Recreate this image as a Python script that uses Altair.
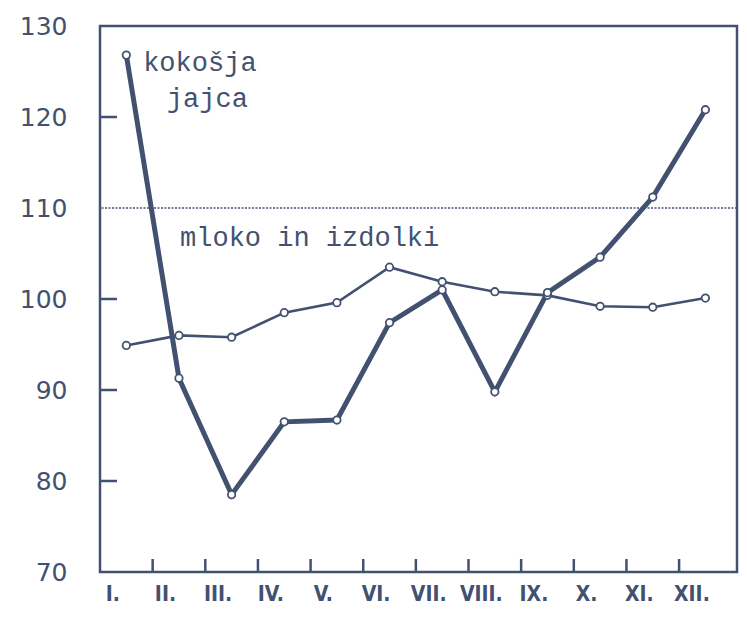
import altair as alt
import pandas as pd

months = list(range(1, 13))
month_labels = ["I.", "II.", "III.", "IV.", "V.", "VI.", "VII.", "VIII.", "IX.", "X.", "XI.", "XII."]
eggs = [126.8, 91.3, 78.5, 86.5, 86.7, 97.4, 101.0, 89.8, 100.7, 104.6, 111.2, 120.8]
milk = [94.9, 96.0, 95.8, 98.5, 99.6, 103.5, 101.9, 100.8, 100.4, 99.2, 99.1, 100.1]
y_labels = [70, 80, 90, 100, 110, 120, 130]
y_ticks = [80, 90, 100, 120]
ref_line = [110]

ann_text = ["kokošja", "jajca", "mloko in izdolki"]
ann_x = [1.32, 1.77, 2.02]
ann_y = [125.9, 122.0, 106.7]

INK = "#435170"
W, H = 637, 546

df = pd.DataFrame({"m": months, "eggs": eggs, "milk": milk})
ann = pd.DataFrame({"t": ann_text, "x": ann_x, "y": ann_y})

xs = alt.Scale(domain=[0.5, 12.6], nice=False, zero=False)
ys = alt.Scale(domain=[70, 130], nice=False, zero=False)

label_expr = "[" + ",".join("'%s'" % s for s in month_labels) + "][datum.value - 1]"

xaxis = alt.Axis(values=months, labelExpr=label_expr, ticks=False, domain=False, grid=False,
                 title=None, labelFont="DejaVu Sans Condensed", labelFontWeight="bold",
                 labelFontSize=21, labelColor=INK, labelPadding=11, labelOffset=-14,
                 labelFlush=False)
yaxis = alt.Axis(values=y_labels, ticks=False, domain=False, grid=False, title=None,
                 labelFont="DejaVu Sans", labelFontSize=25, labelColor=INK,
                 labelPadding=33)

base = alt.Chart(df)

eggs_line = base.mark_line(color=INK, strokeWidth=5).encode(
    x=alt.X("m:Q", scale=xs, axis=xaxis),
    y=alt.Y("eggs:Q", scale=ys, axis=yaxis),
)
eggs_pts = base.mark_point(shape="circle", filled=True, fill="white", stroke=INK,
                           strokeWidth=1.8, size=55, opacity=1).encode(
    x=alt.X("m:Q", scale=xs), y=alt.Y("eggs:Q", scale=ys))

milk_line = base.mark_line(color=INK, strokeWidth=2.6).encode(
    x=alt.X("m:Q", scale=xs), y=alt.Y("milk:Q", scale=ys))
milk_pts = base.mark_point(shape="circle", filled=True, fill="white", stroke=INK,
                           strokeWidth=1.8, size=55, opacity=1).encode(
    x=alt.X("m:Q", scale=xs), y=alt.Y("milk:Q", scale=ys))

ref = alt.Chart(pd.DataFrame({"v": ref_line})).mark_rule(
    color=INK, strokeWidth=1.3, strokeDash=[2, 1.5]).encode(
    y=alt.Y("v:Q", scale=ys))

ytick = alt.Chart(pd.DataFrame({"v": y_ticks})).mark_rule(color=INK, strokeWidth=2.5).encode(
    y=alt.Y("v:Q", scale=ys), x=alt.value(0), x2=alt.value(17))

xtick = alt.Chart(df).transform_filter("datum.m < 12").transform_calculate(
    xt="datum.m + 0.5").mark_rule(color=INK, strokeWidth=2.5).encode(
    x=alt.X("xt:Q", scale=xs), y=alt.value(H), y2=alt.value(H - 13))

texts = alt.Chart(ann).mark_text(font="Liberation Mono", fontSize=27, color=INK,
                                 align="left", baseline="middle").encode(
    x=alt.X("x:Q", scale=xs), y=alt.Y("y:Q", scale=ys), text="t:N")

chart = alt.layer(ref, milk_line, eggs_line, milk_pts, eggs_pts, ytick, xtick, texts).properties(
    width=W, height=H,
    autosize=alt.AutoSizeParams(type="none"),
    padding={"left": 92, "top": 18, "right": 2, "bottom": 38},
    background="white",
).configure_view(stroke=INK, strokeWidth=2.5)

chart.save("out.html", embed_options={"renderer": "svg", "actions": False})
